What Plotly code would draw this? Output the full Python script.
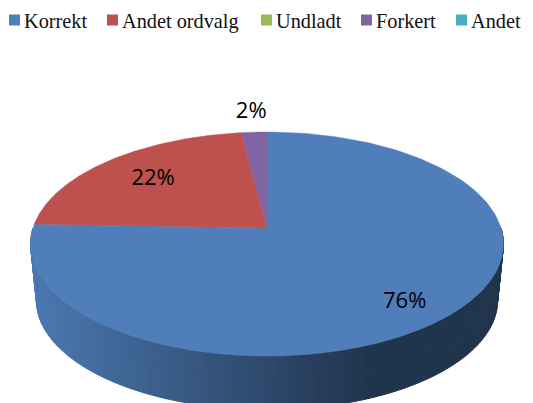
import numpy as np
import plotly.graph_objects as go

# Data (rounds to the printed 76 / 22 / 2)
CATEGORIES = ["Korrekt", "Andet ordvalg", "Undladt", "Forkert", "Andet"]
VALUES = [75.6, 22.4, 0, 2.0, 0]

COLORS = ["#4F7EBA", "#BE504D", "#9BBB59", "#8064A2", "#4BACC6"]
LEGEND_X = [14.5, 112.5, 266.5, 366.5, 461.5]
LABEL_RADIUS = [0.78, 0.705, None, 1.27, None]
LABEL_NUDGE = [7, 0, None, 2, None]

WIDTH, HEIGHT = 533, 403

# Pie projection, all in pixels
CX, CY = 267, 228
RX, RY = 234, 109.7
TILT = 1 / 7
DEPTH = 56.5
SHRINK = 0.975


def project(theta, radius=1.0):
    # theta in degrees, clockwise from the top of the pie
    t = np.radians(theta)
    u, v = radius * np.sin(t), radius * np.cos(t)
    d = 1 + TILT * v
    return CX + RX * u / d, CY - RY * v / d


def project_floor(theta):
    x, y = project(theta)
    return CX + (x - CX) * SHRINK, 244 + (y - 244) * SHRINK + DEPTH


def shade(color, x):
    # wall gets darker from left to right, flat after x=370
    f = np.interp(x, [30, 370, 505], [0.95, 0.41, 0.41])
    r, g, b = [int(color[i:i + 2], 16) for i in (1, 3, 5)]
    return f"rgb({r * f:.0f},{g * f:.0f},{b * f:.0f})"


fig = go.Figure()

edges = np.concatenate([[0], np.cumsum(VALUES)]) * 360 / sum(VALUES)

# Side wall, drawn as thin bands so the shading can run across it
for i, color in enumerate(COLORS):
    start, stop = edges[i], edges[i + 1]
    if stop <= start:
        continue
    steps = np.arange(start, stop, 1.5).tolist() + [stop]
    for a, b in zip(steps[:-1], steps[1:]):
        if not 90 < (a + b) / 2 < 270:
            continue
        xa, ya = project(a)
        xb, yb = project(b)
        xc, yc = project_floor(b)
        xd, yd = project_floor(a)
        band = shade(color, (xa + xb) / 2)
        fig.add_trace(go.Scatter(
            x=[xa, xb, xc, xd, xa],
            y=[ya, yb, yc, yd, ya],
            mode="lines",
            fill="toself",
            fillcolor=band,
            line=dict(color=band, width=1),
            showlegend=False,
            hoverinfo="skip",
        ))

# Top face
for i, color in enumerate(COLORS):
    start, stop = edges[i], edges[i + 1]
    if stop <= start:
        continue
    angles = np.linspace(start, stop, 200)
    xs, ys = project(angles)
    fig.add_trace(go.Scatter(
        x=[CX] + xs.tolist() + [CX],
        y=[CY] + ys.tolist() + [CY],
        mode="lines",
        fill="toself",
        fillcolor=color,
        line=dict(color=color, width=0.5),
        name=CATEGORIES[i],
        showlegend=False,
        hovertemplate=f"{CATEGORIES[i]}: {VALUES[i]:.0f}%<extra></extra>",
    ))

# Percent labels
for i, radius in enumerate(LABEL_RADIUS):
    if radius is None:
        continue
    lx, ly = project((edges[i] + edges[i + 1]) / 2, radius)
    fig.add_trace(go.Scatter(
        x=[lx],
        y=[ly + LABEL_NUDGE[i]],
        mode="text",
        text=[f"{VALUES[i]:.0f}%"],
        textposition="middle center",
        textfont=dict(family="Open Sans", size=22, color="black"),
        showlegend=False,
        hoverinfo="skip",
    ))

# Legend row: the built-in one forces a 30px symbol slot, too wide for this
fig.add_trace(go.Scatter(
    x=LEGEND_X,
    y=[20] * len(LEGEND_X),
    mode="markers",
    marker=dict(symbol="square", size=11, color=COLORS, line=dict(width=0)),
    showlegend=False,
    hoverinfo="skip",
))
for name, x in zip(CATEGORIES, LEGEND_X):
    fig.add_annotation(
        x=x + 9.5, y=21, text=name, showarrow=False,
        xanchor="left", yanchor="middle",
        font=dict(family="Liberation Serif", size=20.3, color="#111111"),
        borderpad=0, borderwidth=0,
    )

fig.update_xaxes(range=[0, WIDTH], visible=False, fixedrange=True)
fig.update_yaxes(range=[HEIGHT, 0], visible=False, fixedrange=True)
fig.update_layout(
    width=WIDTH,
    height=HEIGHT,
    margin=dict(l=0, r=0, t=0, b=0),
    paper_bgcolor="white",
    plot_bgcolor="white",
)

# page has a default 8px body margin, which would push the chart off
fig.write_html(
    "out.html",
    config=dict(displayModeBar=False),
    post_script="document.body.style.margin='0';",
)
